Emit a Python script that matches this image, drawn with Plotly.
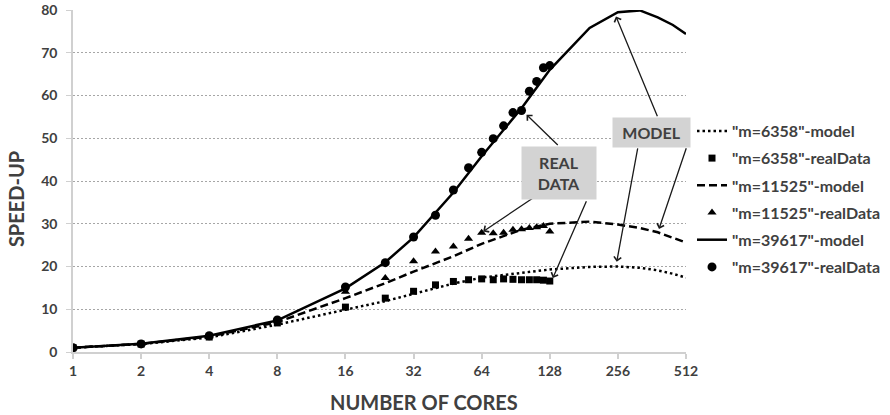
import numpy as np
import plotly.graph_objects as go

# ---------------- data ----------------
model_x = [1, 2, 4, 8, 16, 24, 32, 48, 64, 96, 128, 192, 256, 320, 384, 448, 512]
m6358_model = [1, 1.85, 3.4, 6.4, 9.9, 11.9, 13.6, 16.0, 17.4, 18.6, 19.3, 19.9, 20.0, 19.7, 19.1, 18.3, 17.4]
m11525_model = [1, 1.9, 3.6, 7.0, 12.6, 16.1, 18.8, 22.4, 25.3, 28.6, 30.0, 30.5, 29.8, 29.0, 28.0, 26.8, 25.6]
m39617_model = [1, 1.95, 3.8, 7.4, 14.9, 21.0, 26.8, 37.3, 45.8, 57.0, 66.0, 75.8, 79.5, 79.9, 78.3, 76.5, 74.4]

real_x = [1, 2, 4, 8, 16, 24, 32, 40, 48, 56, 64, 72, 80, 88, 96, 104, 112, 120, 128]
m6358_real = [1, 1.85, 3.5, 6.8, 10.5, 12.6, 14.2, 15.7, 16.5, 16.9, 17.1, 16.9, 17.1, 17.0, 16.9, 16.9, 16.9, 16.8, 16.6]
m11525_real = [1, 1.9, 3.7, 7.2, 14.1, 17.3, 21.2, 23.5, 24.7, 26.5, 27.9, 27.8, 27.9, 28.6, 28.7, 29.0, 29.2, 29.5, 28.2]
m39617_real = [1, 1.9, 3.8, 7.5, 15.2, 20.9, 26.9, 32.0, 37.9, 43.1, 46.7, 49.9, 52.9, 56.0, 56.5, 61.0, 63.3, 66.5, 67.0]

x_ticks = [1, 2, 4, 8, 16, 32, 64, 128, 256, 512]
x_ticktext = ["1", "2", "4", "8", "16", "32", "64", "128", "256", "512"]

TXT = "#404040"
FONT = "Lato"

fig = go.Figure()

def add_model(y, name, dash):
    fig.add_trace(go.Scatter(x=model_x, y=y, mode="lines", name=name, legendgroup=name,
                             line=dict(color="black", width=2.5, dash=dash)))

def add_real(y, name, symbol, size):
    fig.add_trace(go.Scatter(x=real_x, y=y, mode="markers", name=name, legendgroup=name,
                             marker=dict(color="black", symbol=symbol, size=size)))

add_model(m6358_model, '"m=6358"-model', "2.5px,3px")
add_real(m6358_real, '"m=6358"-realData', "square", 7)
add_model(m11525_model, '"m=11525"-model', "8px,4px")
add_real(m11525_real, '"m=11525"-realData', "triangle-up", 8)
add_model(m39617_model, '"m=39617"-model', "solid")
add_real(m39617_real, '"m=39617"-realData', "circle", 9)

L = np.log10

# arrows (head -> tail) in data units
arrows = [
    ((101, 55.5), (141, 48.1)),
    ((65, 28.2), (110, 36.3)),
    ((132, 17.3), (187, 35.6)),
    ((251, 78.5), (385, 54.8)),
    ((253, 21.1), (314, 48.0)),
    ((389, 28.8), (516, 48.0)),
]
for (hx, hy), (tx, ty) in arrows:
    fig.add_annotation(x=L(hx), y=hy, ax=L(tx), ay=ty, xref="x", yref="y", axref="x", ayref="y",
                       text="", showarrow=True, arrowhead=4, arrowsize=1.1, arrowwidth=1.3,
                       arrowcolor="#1a1a1a")

fig.add_annotation(x=L(140.7), y=41.9, xref="x", yref="y", text="<b>REAL<br>DATA</b>",
                   showarrow=False, bgcolor="#d3d3d3", width=70, height=48, borderpad=2,
                   font=dict(family=FONT, size=16, color=TXT))
fig.add_annotation(x=L(360.8), y=51.4, xref="x", yref="y", text="<b>MODEL</b>",
                   showarrow=False, bgcolor="#d3d3d3", width=73, height=25, borderpad=2,
                   font=dict(family=FONT, size=16, color=TXT))

# axis titles
fig.add_annotation(x=0.572, y=-0.145, xref="paper", yref="paper", text="<b>NUMBER OF CORES</b>",
                   showarrow=False, font=dict(family=FONT, size=20, color=TXT),
                   xanchor="center", yanchor="middle")
fig.add_annotation(x=-0.093, y=0.447, xref="paper", yref="paper",
                   text="<b>SPEED-UP</b>", textangle=-90, showarrow=False,
                   font=dict(family=FONT, size=20, color=TXT), xanchor="center", yanchor="middle")

fig.update_layout(
    width=890, height=415,
    margin=dict(l=73, r=204, t=10, b=63),
    paper_bgcolor="white", plot_bgcolor="white",
    font=dict(family=FONT, color=TXT),
    showlegend=True,
    legend=dict(xref="container", yref="container", x=692 / 890, y=1 - 114 / 415,
                xanchor="left", yanchor="top", tracegroupgap=3.4,
                itemwidth=30, font=dict(family=FONT, size=16, color=TXT, weight="bold"),
                bgcolor="rgba(0,0,0,0)"),
    xaxis=dict(type="log", range=[0, L(512)], tickvals=x_ticks, ticktext=x_ticktext,
               showgrid=False, zeroline=False, showline=True, linecolor="#d0d0d0", linewidth=1.5,
               ticks="outside", ticklen=5, tickcolor="#d0d0d0", tickwidth=1.5, automargin=False,
               tickfont=dict(family=FONT, size=14, color=TXT, weight="bold")),
    yaxis=dict(range=[0, 80], dtick=10, showgrid=True, gridcolor="#a6a6a6", griddash="2px,2px",
               gridwidth=1, zeroline=False, showline=True, linecolor="#d0d0d0", linewidth=1.5,
               ticks="outside", ticklen=5, tickcolor="#d0d0d0", tickwidth=1,
               ticklabelstandoff=6, automargin=False,
               tickfont=dict(family=FONT, size=14, color=TXT, weight="bold")),
)

fig.write_html("out.html", config={"displayModeBar": False},
               post_script="document.body.style.margin='0';document.body.style.overflow='hidden';")
